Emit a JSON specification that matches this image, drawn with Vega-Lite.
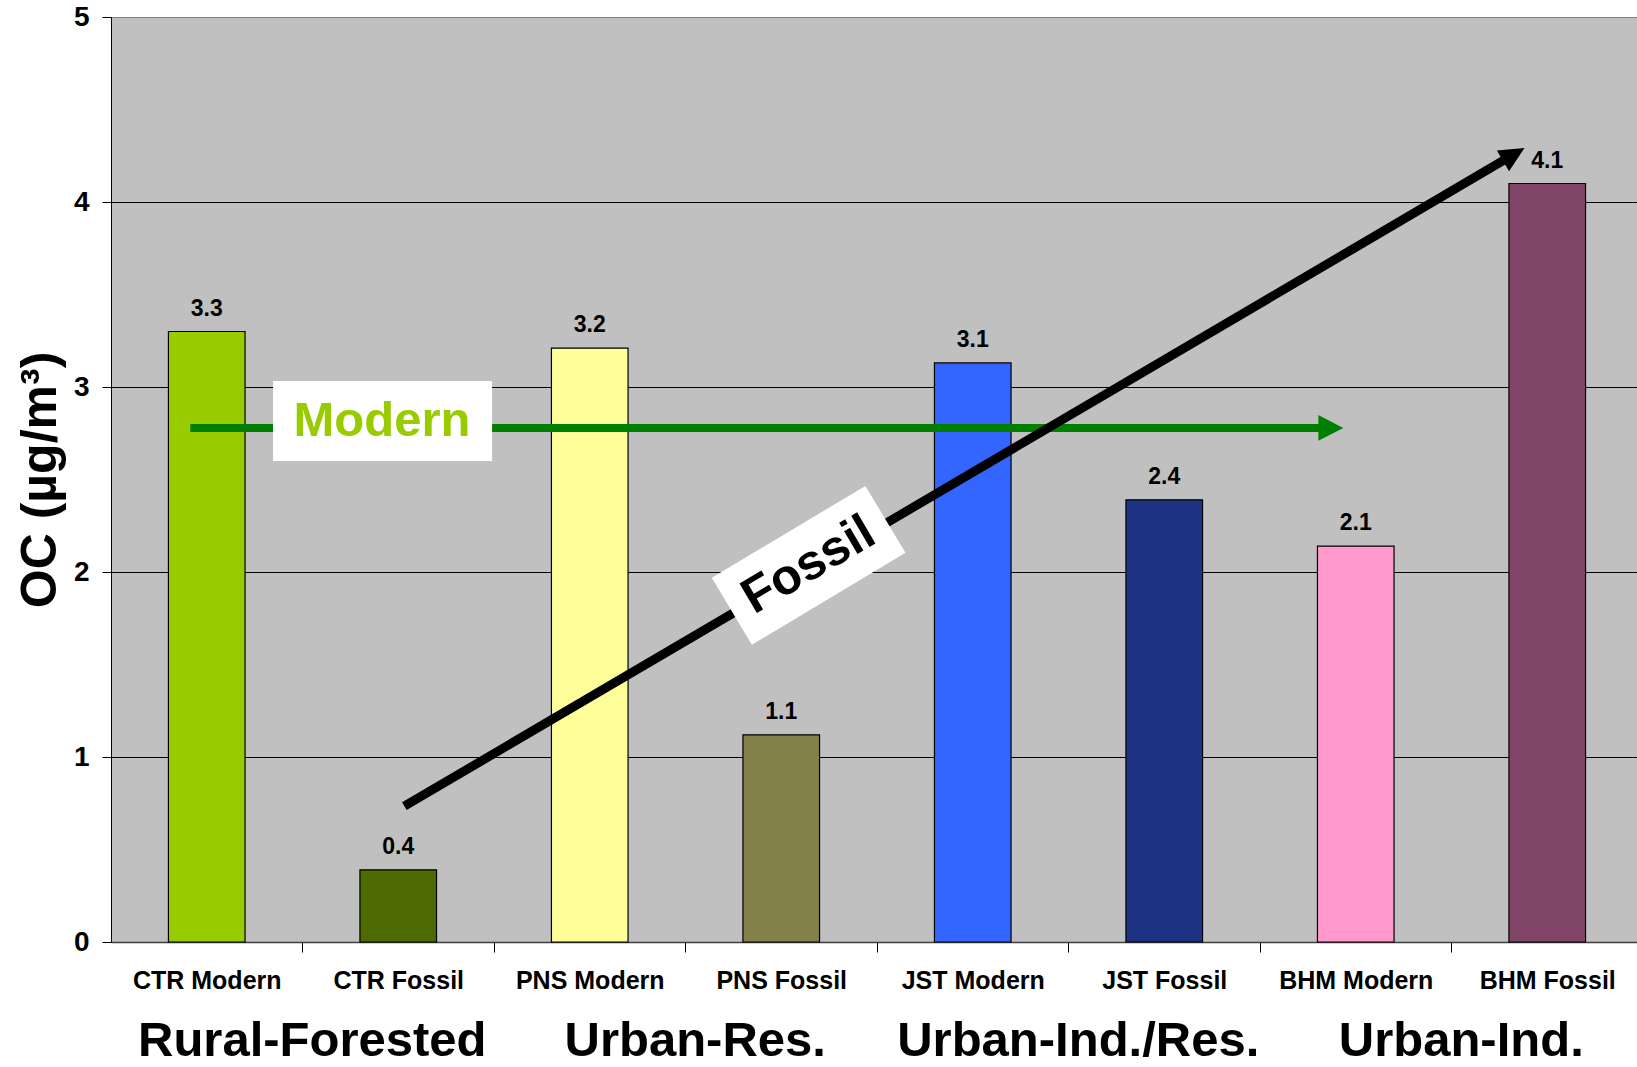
{
  "$schema": "https://vega.github.io/schema/vega-lite/v6.json",
  "width": 1526,
  "height": 925,
  "autosize": {"type": "none"},
  "padding": {"left": 111, "top": 17, "right": 0, "bottom": 125},
  "background": "white",
  "config": {
    "font": "Liberation Sans",
    "view": {"stroke": null, "fill": "#C0C0C0"}
  },
  "datasets": {
    "bars": [
      {"site": "CTR Modern", "oc": 3.30},
      {"site": "CTR Fossil", "oc": 0.39},
      {"site": "PNS Modern", "oc": 3.21},
      {"site": "PNS Fossil", "oc": 1.12},
      {"site": "JST Modern", "oc": 3.13},
      {"site": "JST Fossil", "oc": 2.39},
      {"site": "BHM Modern", "oc": 2.14},
      {"site": "BHM Fossil", "oc": 4.10}
    ],
    "groups": [
      {"group": "Rural-Forested", "site": "CTR Fossil"},
      {"group": "Urban-Res.", "site": "PNS Fossil"},
      {"group": "Urban-Ind./Res.", "site": "JST Fossil"},
      {"group": "Urban-Ind.", "site": "BHM Fossil"}
    ]
  },
  "layer": [
    {
      "layer": [
        {
          "data": {"name": "bars"},
          "mark": {"type": "bar", "stroke": "black", "strokeWidth": 1.2},
          "encoding": {
            "x": {
              "field": "site", "type": "nominal", "sort": null,
              "scale": {
                "domain": ["CTR Modern", "CTR Fossil", "PNS Modern", "PNS Fossil", "JST Modern", "JST Fossil", "BHM Modern", "BHM Fossil"],
                "paddingInner": 0.6, "paddingOuter": 0.2843, "align": 0.5275
              },
              "axis": {
                "title": null, "labelAngle": 0, "labelFontSize": 25, "labelFontWeight": "bold",
                "labelColor": "black", "tickSize": 10, "tickColor": "black",
                "bandPosition": 1, "tickOffset": 57.45, "labelOffset": -57.45,
                "domainColor": "#404040", "domainWidth": 1.5, "labelPadding": 16
              }
            },
            "y": {
              "field": "oc", "type": "quantitative",
              "scale": {"domain": [0, 5], "nice": false},
              "axis": {
                "title": "OC (µg/m³)", "titleFontSize": 50, "titleFontWeight": "bold", "titleColor": "black",
                "titlePadding": 8, "values": [0, 1, 2, 3, 4, 5], "format": "d",
                "labelFontSize": 28, "labelFontWeight": "bold", "labelColor": "black",
                "tickSize": 9, "tickColor": "black", "labelPadding": 13, "domainColor": "black",
                "grid": true,
                "gridColor": {"condition": {"test": "datum.value === 5", "value": "#808080"}, "value": "black"},
                "gridOpacity": 1, "gridWidth": 1
              }
            },
            "fill": {
              "field": "site", "type": "nominal",
              "scale": {
                "domain": ["CTR Modern", "CTR Fossil", "PNS Modern", "PNS Fossil", "JST Modern", "JST Fossil", "BHM Modern", "BHM Fossil"],
                "range": ["#99CC00", "#4D6B00", "#FFFF99", "#848049", "#3366FF", "#1F3385", "#FF99CC", "#804567"]
              },
              "legend": null
            }
          }
        },
        {
          "data": {"name": "bars"},
          "mark": {"type": "text", "fontSize": 23, "fontWeight": "bold", "baseline": "alphabetic", "dy": -16, "color": "black"},
          "encoding": {
            "x": {"field": "site", "type": "nominal", "sort": null},
            "y": {"field": "oc", "type": "quantitative"},
            "text": {"field": "oc", "type": "quantitative", "format": ".1f"}
          }
        },
        {
          "data": {"name": "groups"},
          "mark": {"type": "text", "fontSize": 49, "fontWeight": "bold", "baseline": "alphabetic", "dy": 114, "dx": -86, "color": "black"},
          "encoding": {
            "x": {"field": "site", "type": "nominal", "sort": null},
            "y": {"datum": 0},
            "text": {"field": "group", "type": "nominal"}
          }
        }
      ]
    },
    {
      "layer": [
        {
          "data": {"values": [{"x": 0.414, "oc": 2.779, "x2": 6.37, "oc2": 2.779}]},
          "mark": {"type": "rule", "color": "#008000", "strokeWidth": 8},
          "encoding": {
            "x": {"field": "x", "type": "quantitative", "scale": {"domain": [0, 7.9687], "nice": false, "zero": false}, "axis": null},
            "y": {"field": "oc", "type": "quantitative"},
            "x2": {"field": "x2"},
            "y2": {"field": "oc2"}
          }
        },
        {
          "data": {"values": [{"x": 1.532, "oc": 0.734, "x2": 7.325, "oc2": 4.257}]},
          "mark": {"type": "rule", "color": "black", "strokeWidth": 9},
          "encoding": {
            "x": {"field": "x", "type": "quantitative"},
            "y": {"field": "oc", "type": "quantitative"},
            "x2": {"field": "x2"},
            "y2": {"field": "oc2"}
          }
        },
        {
          "data": {"values": [{"x": 6.37, "oc": 2.779}]},
          "mark": {"type": "point", "shape": "M0,-1L1.03,1L-1.03,1Z", "size": 625, "angle": 90, "filled": true, "color": "#008000", "opacity": 1},
          "encoding": {
            "x": {"field": "x", "type": "quantitative"},
            "y": {"field": "oc", "type": "quantitative"}
          }
        },
        {
          "data": {"values": [{"x": 7.325, "oc": 4.257}]},
          "mark": {"type": "point", "shape": "M0,-1L0.96,1L-0.96,1Z", "size": 625, "angle": 59.5, "filled": true, "color": "black", "opacity": 1},
          "encoding": {
            "x": {"field": "x", "type": "quantitative"},
            "y": {"field": "oc", "type": "quantitative"}
          }
        },
        {
          "data": {"values": [{"x": 0.846, "oc": 3.032, "x2": 1.99, "oc2": 2.6}]},
          "mark": {"type": "rect", "fill": "white"},
          "encoding": {
            "x": {"field": "x", "type": "quantitative"},
            "y": {"field": "oc", "type": "quantitative"},
            "x2": {"field": "x2"},
            "y2": {"field": "oc2"}
          }
        },
        {
          "data": {"values": [{"x": 1.415, "oc": 2.816, "label": "Modern"}]},
          "mark": {"type": "text", "fontSize": 49, "fontWeight": "bold", "color": "#99CC00", "align": "center", "baseline": "middle"},
          "encoding": {
            "x": {"field": "x", "type": "quantitative"},
            "y": {"field": "oc", "type": "quantitative"},
            "text": {"field": "label", "type": "nominal"}
          }
        },
        {
          "data": {"values": [{"x": 3.643, "oc": 2.036}]},
          "mark": {"type": "point", "shape": "M-1,-0.436L1,-0.436L1,0.436L-1,0.436Z", "size": 32041, "angle": -30.9, "filled": true, "color": "white", "opacity": 1},
          "encoding": {
            "x": {"field": "x", "type": "quantitative"},
            "y": {"field": "oc", "type": "quantitative"}
          }
        },
        {
          "data": {"values": [{"x": 3.643, "oc": 2.036, "label": "Fossil"}]},
          "mark": {"type": "text", "fontSize": 50, "fontWeight": "bold", "color": "black", "align": "center", "baseline": "middle", "angle": -30.4},
          "encoding": {
            "x": {"field": "x", "type": "quantitative"},
            "y": {"field": "oc", "type": "quantitative"},
            "text": {"field": "label", "type": "nominal"}
          }
        }
      ]
    }
  ],
  "resolve": {"scale": {"x": "independent"}}
}
